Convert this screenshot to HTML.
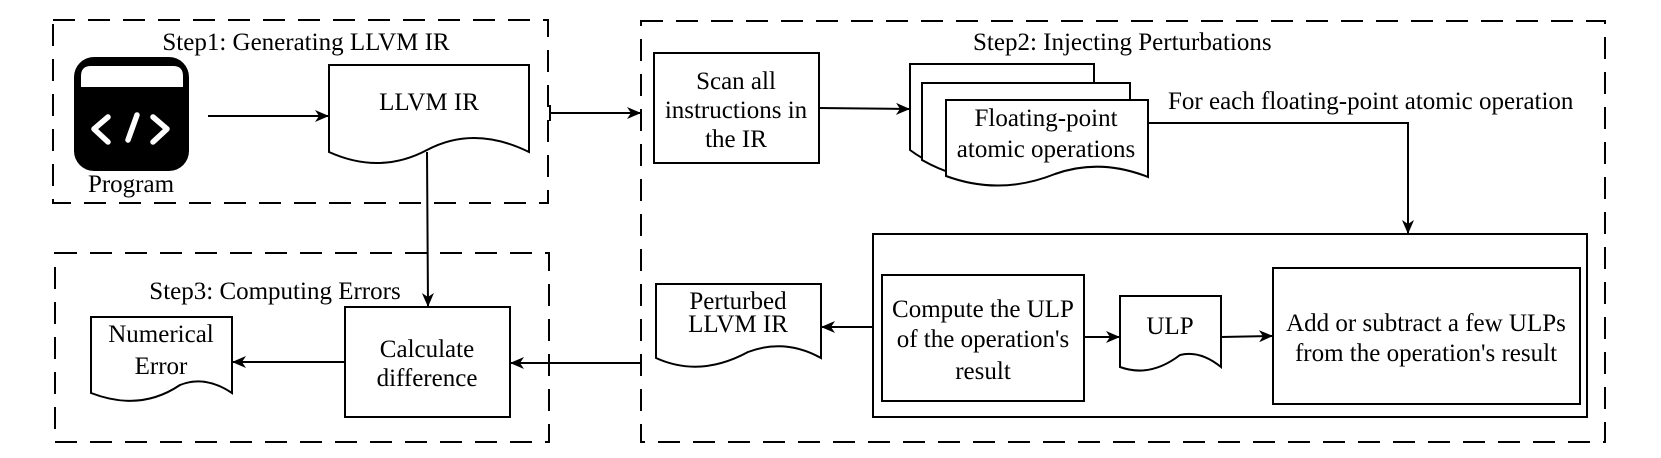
<!DOCTYPE html>
<html><head><meta charset="utf-8"><style>
html,body{margin:0;padding:0;background:#fff;}
svg{display:block;}
text{font-family:"Liberation Serif","Times New Roman",serif;font-size:25px;fill:#000;}
</style></head><body>
<svg width="1661" height="458" viewBox="0 0 1661 458" xmlns="http://www.w3.org/2000/svg" font-family="Liberation Serif, serif">
<defs>
<marker id="a" markerWidth="14" markerHeight="12" refX="13" refY="6" orient="auto" markerUnits="userSpaceOnUse">
<path d="M0,0 L14,6 L0,12 L4,6 Z" fill="#000"/>
</marker>
</defs>
<g fill="none" stroke="#000" stroke-width="2" stroke-dasharray="22 13">
<rect x="53" y="20" width="495" height="183"/>
<rect x="55" y="253" width="494" height="189"/>
<rect x="641" y="21" width="964" height="421"/>
</g>
<text x="306" y="50" text-anchor="middle">Step1: Generating LLVM IR</text>
<text x="973" y="50">Step2: Injecting Perturbations</text>
<text x="275" y="299" text-anchor="middle">Step3: Computing Errors</text>

<rect x="74" y="57" width="115" height="114" rx="20" fill="#000"/>
<path d="M81,87 L81,76 Q81,66 91,66 L173,66 Q183,66 183,76 L183,87 Z" fill="#fff"/>
<g stroke="#fff" stroke-width="5.5" stroke-linecap="round" stroke-linejoin="round" fill="none">
<path d="M108,117 L94,129 L108,142"/>
<path d="M137,115 L128,140"/>
<path d="M153,117 L167,129 L153,142"/>
</g>
<text x="131" y="192" text-anchor="middle">Program</text>

<g fill="#fff" stroke="#000" stroke-width="2">
<path d="M329,65 H529 V152 Q474,125 427,150 Q380,175 329,152 Z"/>
<path d="M910,64 H1094 V160 Q1040,140 990,162 Q950,180 910,150 Z"/>
<path d="M922,83 H1130 V170 Q1075,150 1025,172 Q975,190 922,160 Z"/>
<path d="M946,100 H1148 V177 Q1100,158 1055,174 Q1000,196 946,176 Z"/>
<rect x="654" y="53" width="165" height="110"/>
<rect x="873" y="234" width="714" height="183"/>
<rect x="882" y="275" width="202" height="126"/>
<rect x="1273" y="268" width="307" height="136"/>
<path d="M1120,296 H1221 V367 Q1200,350 1180,355 Q1150,378 1120,367 Z"/>
<path d="M656,284 H821 V358 Q785,338 748,352 Q700,378 656,358 Z"/>
<rect x="345" y="307" width="165" height="110"/>
<path d="M91,317 H232 V393 Q205,375 180,385 Q140,412 91,393 Z"/>
</g>

<text x="429" y="110" text-anchor="middle">LLVM IR</text>
<text x="736" y="89" text-anchor="middle">Scan all</text>
<text x="736" y="118" text-anchor="middle">instructions in</text>
<text x="736" y="147" text-anchor="middle">the IR</text>
<text x="1046" y="126" text-anchor="middle">Floating-point</text>
<text x="1046" y="157" text-anchor="middle">atomic operations</text>
<text x="1168" y="109">For each floating-point atomic operation</text>
<text x="738" y="309" text-anchor="middle">Perturbed</text>
<text x="738" y="332" text-anchor="middle">LLVM IR</text>
<text x="983" y="317" text-anchor="middle">Compute the ULP</text>
<text x="983" y="347" text-anchor="middle">of the operation's</text>
<text x="983" y="379" text-anchor="middle">result</text>
<text x="1170" y="334" text-anchor="middle">ULP</text>
<text x="1426" y="331" text-anchor="middle">Add or subtract a few ULPs</text>
<text x="1426" y="361" text-anchor="middle">from the operation's result</text>
<text x="427" y="357" text-anchor="middle">Calculate</text>
<text x="427" y="386" text-anchor="middle">difference</text>
<text x="161" y="342" text-anchor="middle">Numerical</text>
<text x="161" y="374" text-anchor="middle">Error</text>

<g stroke="#000" stroke-width="2" fill="none">
<line x1="208" y1="116" x2="328" y2="116" marker-end="url(#a)"/>
<line x1="550" y1="105" x2="550" y2="121"/>
<line x1="550" y1="113" x2="640" y2="113" marker-end="url(#a)"/>
<line x1="819" y1="108" x2="909" y2="109" marker-end="url(#a)"/>
<polyline points="1148,123 1408,123 1408,233" marker-end="url(#a)"/>
<line x1="873" y1="327" x2="822" y2="327" marker-end="url(#a)"/>
<line x1="1084" y1="337" x2="1119" y2="337" marker-end="url(#a)"/>
<line x1="1221" y1="337" x2="1272" y2="336" marker-end="url(#a)"/>
<line x1="427" y1="152" x2="428" y2="306" marker-end="url(#a)"/>
<line x1="641" y1="355" x2="641" y2="371"/>
<line x1="641" y1="363" x2="511" y2="363" marker-end="url(#a)"/>
<line x1="345" y1="362" x2="233" y2="362" marker-end="url(#a)"/>
</g>
</svg>
</body></html>
